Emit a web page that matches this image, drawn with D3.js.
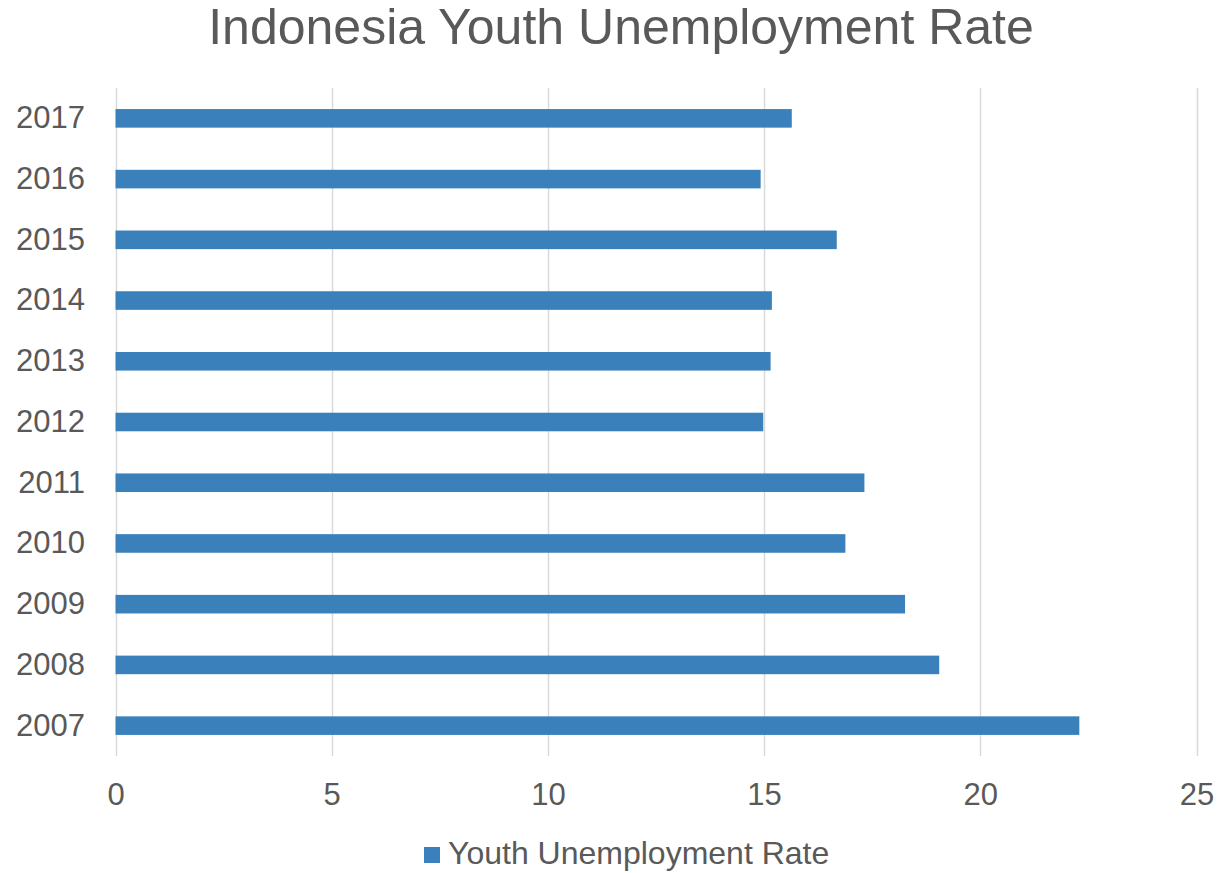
<!DOCTYPE html>
<html><head><meta charset="utf-8">
<script src="https://cdn.jsdelivr.net/npm/d3@7"></script>
<style>body{margin:0;background:#fff;} text{font-family:"Liberation Sans",Arial,sans-serif;}</style>
</head><body>
<svg id="c" width="1227" height="873"></svg>
<script>
const years = ["2007","2008","2009","2010","2011","2012","2013","2014","2015","2016","2017"];
const rates = [22.29,19.05,18.26,16.88,17.32,14.98,15.15,15.18,16.68,14.92,15.64];
const xTicks = [0,5,10,15,20,25];
const seriesName = "Youth Unemployment Rate";
const titleText = "Indonesia Youth Unemployment Rate";

(function(){
const svg = d3.select("#c");
const pL = 115.5, pR = 1196.5, pT = 88, pB = 756;
const x = d3.scaleLinear().domain([0,25]).range([pL,pR]);
const y = d3.scaleBand().domain(years.slice().reverse()).range([pT,pB]).paddingInner(0.694).paddingOuter(0.347);
const txt = "#595959";

svg.append("text").attr("x",621).attr("y",44).attr("text-anchor","middle")
  .attr("font-size",50).attr("fill",txt).text(titleText);

svg.append("g").selectAll("line").data(xTicks).join("line")
  .attr("x1",d=>Math.round(x(d))+0.5).attr("x2",d=>Math.round(x(d))+0.5)
  .attr("y1",pT).attr("y2",pB).attr("stroke","#d9d9d9").attr("stroke-width",1.5);

svg.append("g").selectAll("rect").data(years).join("rect")
  .attr("x",x(0)).attr("y",d=>y(d)).attr("height",y.bandwidth())
  .attr("width",(d,i)=>x(rates[i])-x(0)).attr("fill","#3a80ba");

const xa = svg.append("g").attr("transform",`translate(0,${pB})`)
  .call(d3.axisBottom(x).tickValues(xTicks).tickSize(0).tickPadding(27).tickFormat(d3.format("d")));
xa.select(".domain").remove();
xa.selectAll("text").attr("font-size",31).attr("fill",txt);

const ya = svg.append("g").attr("transform",`translate(${pL},0)`)
  .call(d3.axisLeft(y).tickSize(0).tickPadding(30.5));
ya.select(".domain").remove();
ya.selectAll("text").attr("font-size",31).attr("fill",txt).attr("dy","0.32em");

const lg = svg.append("g");
lg.append("rect").attr("x",424).attr("y",847).attr("width",16).attr("height",16).attr("fill","#3a80ba");
lg.append("text").attr("x",448).attr("y",864).attr("font-size",32).attr("fill",txt).text(seriesName);
})();
</script>
</body></html>
